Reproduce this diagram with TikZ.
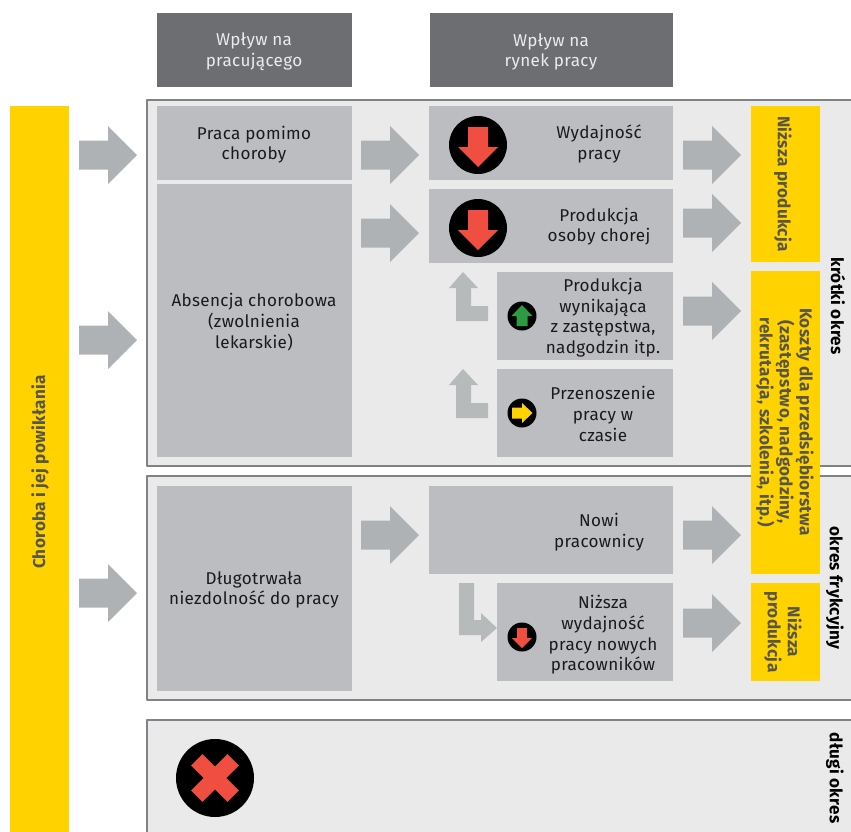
\documentclass[tikz,border=0pt]{standalone}
\usepackage{fontspec}
\setmainfont{Fira Sans}[LetterSpace=2]
\definecolor{hdr}{HTML}{6D6E71}
\definecolor{boxg}{HTML}{BCBDC0}
\definecolor{panelg}{HTML}{EAEAEA}
\definecolor{framec}{HTML}{808285}
\definecolor{yel}{HTML}{FFD200}
\definecolor{arrowg}{HTML}{AFB2B4}
\definecolor{redc}{HTML}{F04E40}
\definecolor{greenc}{HTML}{2E9A42}
\definecolor{ytext}{HTML}{55554A}
\definecolor{txtc}{HTML}{1A1A1A}
\tikzset{
  panel/.style={inner sep=0pt,outer sep=0pt,fill=boxg,draw=none},
  header/.style={panel,fill=hdr},
  yellowbox/.style={panel,fill=yel},
  txt/.style={align=center,inner sep=0pt,text=txtc,font=\fontsize{12.8}{15.5}\selectfont},
  hdrtxt/.style={txt,text=white!92!black},
  ytxt/.style={txt,text=ytext,font=\fontsize{12.8}{15}\fontseries{sb}\selectfont,rotate=-90},
  sidetxt/.style={txt,text=black,font=\fontsize{12.8}{15}\fontseries{sb}\selectfont,rotate=-90},
  blockarrow/.style={fill=arrowg,draw=none},
  lblock/.style={fill=arrowg!90!white,draw=none},
  frameline/.style={draw=framec,line width=2.1pt,line join=round},
  disc/.style={circle,fill=black,inner sep=0pt,outer sep=0pt},
}
\newcommand\bx[6][panel]{%
  \pgfmathsetlengthmacro\bw{(#5-#3)*0.75pt}%
  \pgfmathsetlengthmacro\bh{(#6-#4)*0.75pt}%
  \node[#1,minimum width=\bw,minimum height=\bh] (#2) at ({(#3+#5)/2},{(#4+#6)/2}) {};}
\newcommand\bigarr[2]{% left x, centre y
  \fill[blockarrow] (#1,#2-14.5) -- ++(29,0) -- ++(0,-14.5) -- ++(29,29) -- ++(-29,29) -- ++(0,-14.5) -- ++(-29,0) -- cycle;}
\newcommand\upL[2]{% y tip, y of horizontal top
  \fill[lblock] (463,#1) -- (478,#1+16) -- (471,#1+16) -- (471,#2) -- (488,#2) -- (488,#2+15) -- (456,#2+15) -- (456,#1+16) -- (449,#1+16) -- cycle;}
\newcommand\dnarrow[6]{% name cx cy r scale colour
  \node[disc,minimum size=#4*1.5pt] (#1) at (#2,#3) {};
  \fill[#6,shift={(#2,#3)},scale=#5] (-10,-18) -- (10,-18) -- (10,2) -- (20,2) -- (0,22) -- (-20,2) -- (-10,2) -- cycle;}
\begin{document}
\begin{tikzpicture}[x=0.75pt,y=-0.75pt]
\useasboundingbox (0,0) rectangle (851,832);
% panels
\fill[panelg] (147,100) rectangle (851,466);
\fill[panelg] (147,476) rectangle (851,700);
\fill[panelg] (147,720) rectangle (851,832);
\draw[frameline] (851,100) -- (147,100) -- (147,466) -- (851,466);
\draw[frameline] (851,476) -- (147,476) -- (147,700) -- (851,700);
\draw[frameline] (851,720) -- (147,720) -- (147,834);
% headers
\bx[header]{h1}{157}{13}{352}{87}
\bx[header]{h2}{430}{13}{673}{87}
\node[hdrtxt] (th1) at (254,52) {Wpływ na\\pracującego};
\node[hdrtxt] (th2) at (551,52) {Wpływ na\\rynek pracy};
% left bar
\bx[yellowbox]{bar}{10}{106}{69}{832}
\node[ytxt,rotate=180] (tbar) at (40,472) {Choroba i jej powikłania};
% grey boxes
\bx{b1}{157}{106}{352}{180}
\bx{b2}{157}{184}{352}{457}
\bx{b3}{157}{486}{352}{691}
\bx{c1}{429}{106}{673}{180}
\bx{c2}{429}{189}{673}{263}
\bx{c3}{497}{272}{673}{360}
\bx{c4}{497}{369}{673}{457}
\bx{c5}{429}{486}{673}{574}
\bx{c6}{497}{583}{673}{681}
% yellow boxes
\bx[yellowbox]{y1}{751}{106}{820}{262}
\bx[yellowbox]{y2}{751}{271}{820}{574}
\bx[yellowbox]{y3}{751}{583}{820}{681}
% texts
\node[txt] (t1) at (254,144.5) {Praca pomimo\\choroby};
\node[txt] (t2) at (254,322) {Absencja chorobowa\\(zwolnienia\\lekarskie)};
\node[txt] (t3) at (254,590) {Długotrwała\\niezdolność do pracy};
\node[txt] (t4) at (599,144) {Wydajność\\pracy};
\node[txt] (t5) at (599,226.5) {Produkcja\\osoby chorej};
\node[txt] (t6) at (603,317.5) {Produkcja\\wynikająca\\z zastępstwa,\\nadgodzin itp.};
\node[txt] (t7) at (603,414) {Przenoszenie\\pracy w\\czasie};
\node[txt] (t8) at (599,532) {Nowi\\pracownicy};
\node[txt] (t9) at (603,635) {Niższa\\wydajność\\pracy nowych\\pracowników};
\node[ytxt] (ty1) at (783,184) {Niższa produkcja};
\node[ytxt] (ty2) at (785,422) {Koszty dla przedsiębiorstwa\\(zastępstwo, nadgodziny,\\rekrutacja, szkolenia, itp.)};
\node[ytxt] (ty3) at (783,632) {Niższa\\produkcja};
\node[sidetxt] (s1) at (838,306) {krótki okres};
\node[sidetxt] (s2) at (835,588) {okres frykcyjny};
\node[sidetxt] (s3) at (835,778) {długi okres};
% block arrows
\bigarr{79}{155}\bigarr{79}{340}\bigarr{79}{593}
\bigarr{361}{155}\bigarr{361}{233}\bigarr{361}{535}
\bigarr{683}{155}\bigarr{683}{223}\bigarr{683}{311}\bigarr{683}{535}\bigarr{683}{623}
\upL{272}{306}
\upL{369}{403}
\fill[lblock] (459,583) -- (474,583) -- (474,620) -- (481,620) -- (481,613) -- (497,628) -- (481,642) -- (481,635) -- (459,635) -- cycle;
% discs
\dnarrow{d1}{478}{145}{29}{1}{redc}
\dnarrow{d2}{478}{228}{29}{1}{redc}
\dnarrow{d3}{522}{637}{14.5}{0.5}{redc}
\node[disc,minimum size=21.75pt] (d4) at (522,316) {};
\fill[greenc,shift={(522,316)}] (0,-11) -- (10.5,0) -- (5.5,0) -- (5.5,10) -- (-5.5,10) -- (-5.5,0) -- (-10.5,0) -- cycle;
\node[disc,minimum size=21.75pt] (d5) at (522,413) {};
\fill[yel,shift={(522,413)}] (10.5,0) -- (0,10) -- (0,5.5) -- (-10,5.5) -- (-10,-5.5) -- (0,-5.5) -- (0,-10) -- cycle;
\node[disc,minimum size=58.5pt] (d6) at (215,778) {};
\fill[redc,shift={(215,778)},rotate=45] (-8,-25.7) -- (8,-25.7) -- (8,-8) -- (25.7,-8) -- (25.7,8) -- (8,8) -- (8,25.7) -- (-8,25.7) -- (-8,8) -- (-25.7,8) -- (-25.7,-8) -- (-8,-8) -- cycle;
\end{tikzpicture}
\end{document}
